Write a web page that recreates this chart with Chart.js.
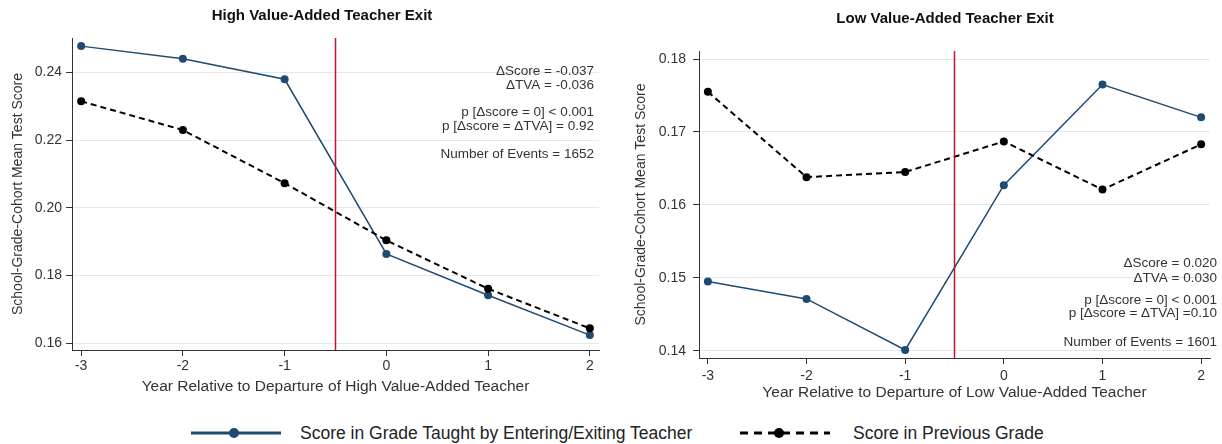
<!DOCTYPE html>
<html lang="en">
<head>
    <meta charset="UTF-8">
    <title>Teacher Exit Event Study</title>
    <script src="https://cdn.jsdelivr.net/npm/chart.js@4.4.1/dist/chart.umd.min.js"></script>
    <style>
        body {
            margin: 0;
            background: #ffffff;
            width: 1222px;
            height: 444px;
            overflow: hidden;
            position: relative;
            font-family: "Liberation Sans", Arial, sans-serif;
        }
        .panel {
            position: absolute;
            top: 0;
            width: 611px;
        }
        #highPanel { left: 0; height: 400px; }
        #lowPanel { left: 611px; height: 410px; }
        .legend {
            position: absolute;
            top: 422px;
            left: 0;
            width: 1222px;
            height: 22px;
            font-size: 17.5px;
            color: #222;
        }
        .legend svg, .legend span {
            position: absolute;
            top: 0;
        }
        .legend span { line-height: 22px; }
    </style>
</head>
<body>
    <div class="panel" id="highPanel"><canvas id="highChart"></canvas></div>
    <div class="panel" id="lowPanel"><canvas id="lowChart"></canvas></div>

    <div class="legend">
        <svg width="100" height="22" style="left:188px">
            <line x1="3" y1="11" x2="93" y2="11" stroke="#1f4a72" stroke-width="3"/>
            <circle cx="46" cy="11" r="5" fill="#1f4a72"/>
        </svg>
        <span style="left:300px">Score in Grade Taught by Entering/Exiting Teacher</span>
        <svg width="100" height="22" style="left:737px">
            <line x1="3" y1="11" x2="93" y2="11" stroke="#000" stroke-width="3" stroke-dasharray="8,6"/>
            <circle cx="42" cy="11" r="5" fill="#000"/>
        </svg>
        <span style="left:853px">Score in Previous Grade</span>
    </div>

    <script>
        const years = [-3, -2, -1, 0, 1, 2];
        const xTicks = [-3, -2, -1, 0, 1, 2];
        const exitYear = -0.5;

        const highTaught = [0.2478, 0.2441, 0.2380, 0.1864, 0.1742, 0.1624];
        const highPrev = [0.2315, 0.2230, 0.2073, 0.1904, 0.1761, 0.1644];
        const highYTicks = [0.16, 0.18, 0.20, 0.22, 0.24];
        const highNotes = ['ΔScore = -0.037', 'ΔTVA = -0.036', 'p [Δscore = 0] < 0.001', 'p [Δscore = ΔTVA] = 0.92', 'Number of Events = 1652'];

        const lowTaught = [0.1495, 0.1471, 0.1401, 0.1627, 0.1765, 0.1720];
        const lowPrev = [0.1755, 0.1638, 0.1645, 0.1687, 0.1621, 0.1683];
        const lowYTicks = [0.14, 0.15, 0.16, 0.17, 0.18];
        const lowNotes = ['ΔScore = 0.020', 'ΔTVA = 0.030', 'p [Δscore = 0] < 0.001', 'p [Δscore = ΔTVA] =0.10', 'Number of Events = 1601'];

        const FONT = '"Liberation Sans", Arial, sans-serif';
        const NAVY = '#1f4a72';
        const RED = '#c8102e';

        // panel title, red exit line and stats text
        const overlayPlugin = {
            id: 'overlay',
            afterDatasetsDraw(chart, args, opts) {
                const {ctx, chartArea, scales} = chart;
                const x = scales.x.getPixelForValue(exitYear);
                ctx.save();
                ctx.strokeStyle = RED;
                ctx.lineWidth = 1.5;
                ctx.beginPath();
                ctx.moveTo(x, chartArea.top);
                ctx.lineTo(x, chartArea.bottom);
                ctx.stroke();

                ctx.fillStyle = '#111';
                ctx.font = 'bold 15px ' + FONT;
                ctx.textAlign = 'center';
                ctx.textBaseline = 'middle';
                ctx.fillText(opts.title, (chartArea.left + chartArea.right) / 2 + opts.titleDx, opts.titleY);

                ctx.fillStyle = '#333';
                ctx.font = '13.5px ' + FONT;
                ctx.textAlign = 'right';
                opts.notes.forEach((line, i) => {
                    ctx.fillText(line, chartArea.right + opts.dx, chartArea.top + opts.dy[i]);
                });
                ctx.restore();
            }
        };

        function makeChart(id, cfg) {
            const ctx = document.getElementById(id).getContext('2d');
            return new Chart(ctx, {
                type: 'line',
                data: {
                    datasets: [{
                        label: 'Score in Previous Grade',
                        data: years.map((yr, i) => ({x: yr, y: cfg.prev[i]})),
                        borderColor: '#000',
                        backgroundColor: '#000',
                        borderWidth: 2,
                        borderDash: [6, 4],
                        pointRadius: 4,
                        pointBorderWidth: 0,
                        tension: 0
                    }, {
                        label: 'Score in Grade Taught by Entering/Exiting Teacher',
                        data: years.map((yr, i) => ({x: yr, y: cfg.taught[i]})),
                        borderColor: NAVY,
                        backgroundColor: NAVY,
                        borderWidth: 1.5,
                        pointRadius: 4,
                        pointBorderWidth: 0,
                        tension: 0
                    }]
                },
                options: {
                    responsive: true,
                    maintainAspectRatio: false,
                    animation: false,
                    layout: {padding: {left: 0, right: 12, top: cfg.padTop, bottom: 0}},
                    plugins: {
                        legend: {display: false},
                        tooltip: {enabled: false},
                        title: {display: false},
                        overlay: {
                            title: cfg.title,
                            titleDx: cfg.titleDx,
                            titleY: cfg.titleY,
                            notes: cfg.notes,
                            dx: cfg.noteDx,
                            dy: cfg.noteDy
                        }
                    },
                    scales: {
                        x: {
                            type: 'linear',
                            min: -3.09,
                            max: 2.09,
                            afterBuildTicks: s => { s.ticks = xTicks.map(v => ({value: v})); },
                            afterFit: s => { s.height = cfg.xHeight; },
                            grid: {drawOnChartArea: false, tickColor: '#333', tickLength: 6},
                            border: {color: '#333', width: 1},
                            ticks: {
                                color: '#333',
                                font: {family: FONT, size: 14},
                                padding: cfg.xTickPad,
                                maxRotation: 0
                            },
                            title: {
                                display: true,
                                text: cfg.xTitle,
                                color: '#333',
                                font: {family: FONT, size: 15.5},
                                padding: {top: 0, bottom: cfg.xTitlePad}
                            }
                        },
                        y: {
                            min: cfg.yMin,
                            max: cfg.yMax,
                            afterBuildTicks: s => { s.ticks = cfg.yTicks.map(v => ({value: v})); },
                            afterFit: s => { s.width = cfg.yWidth; },
                            grid: {color: '#dfe9ef', tickColor: '#333', tickLength: 6},
                            border: {color: '#333', width: 1},
                            ticks: {
                                color: '#333',
                                font: {family: FONT, size: 14},
                                padding: cfg.yTickPad,
                                callback: v => v.toFixed(2)
                            },
                            title: {
                                display: true,
                                text: 'School-Grade-Cohort Mean Test Score',
                                color: '#333',
                                font: {family: FONT, size: 14},
                                padding: {top: cfg.yTitlePad, bottom: 0}
                            }
                        }
                    }
                },
                plugins: [overlayPlugin]
            });
        }

        makeChart('highChart', {
            title: 'High Value-Added Teacher Exit',
            titleDx: -13.5,
            titleY: 16,
            xTitle: 'Year Relative to Departure of High Value-Added Teacher',
            taught: highTaught,
            prev: highPrev,
            yTicks: highYTicks,
            yMin: 0.158,
            yMax: 0.2502,
            notes: highNotes,
            noteDx: -5,
            noteDy: [33, 47, 74, 88, 116],
            padTop: 38,
            yWidth: 72,
            yTickPad: 4,
            yTitlePad: 9.6,
            xHeight: 50,
            xTickPad: 2,
            xTitlePad: 3.7
        });

        makeChart('lowChart', {
            title: 'Low Value-Added Teacher Exit',
            titleDx: -9.5,
            titleY: 19,
            xTitle: 'Year Relative to Departure of Low Value-Added Teacher',
            taught: lowTaught,
            prev: lowPrev,
            yTicks: lowYTicks,
            yMin: 0.139,
            yMax: 0.1811,
            notes: lowNotes,
            noteDx: 7,
            noteDy: [212, 227, 249, 262, 291],
            padTop: 51,
            yWidth: 88,
            yTickPad: 7,
            yTitlePad: 21.6,
            xHeight: 52,
            xTickPad: 4,
            xTitlePad: 7.7
        });
    </script>
</body>
</html>
